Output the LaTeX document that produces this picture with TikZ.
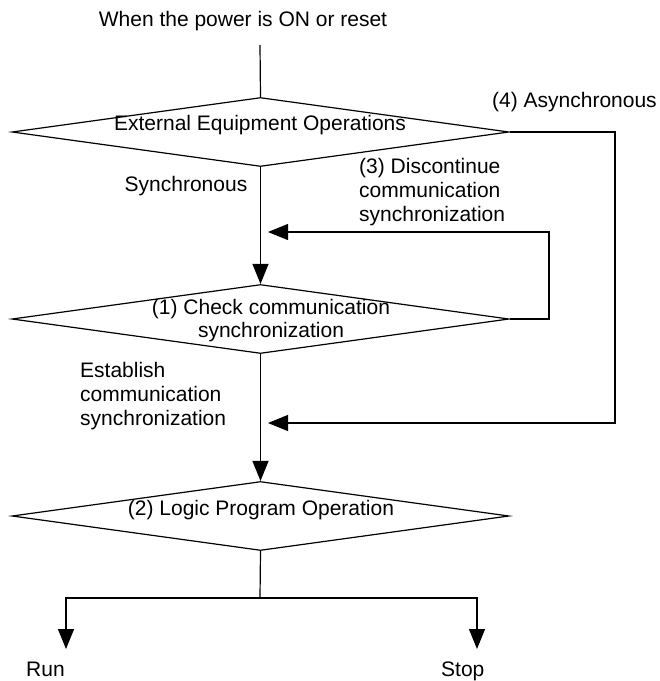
\documentclass[tikz,border=0pt]{standalone}
\usepackage{fontspec}
\setmainfont{Liberation Sans}
\usetikzlibrary{shapes.geometric,arrows.meta}
\tikzset{
  dec/.style={diamond, draw, line width=1.2pt, minimum width=497pt, minimum height=69pt, inner sep=0pt, aspect=7.2},
  txt/.style={inner sep=0pt, font=\fontsize{21}{25}\selectfont},
  ln/.style={line width=1.2pt, line join=miter},
  arr/.style={ln, -{Triangle[length=20pt,width=16pt]}}
}
\begin{document}
\begin{tikzpicture}[x=1pt,y=-1pt]
\useasboundingbox (0,0) rectangle (660,681);
% decisions
\node[dec] (d1) at (260.5,132) {};
\node[dec] (d2) at (260.5,319) {};
\node[dec] (d3) at (260.5,516) {};
% texts
\node[txt, anchor=base] (title) at (243,26) {When the power is ON or reset};
\node[txt, anchor=base] (t1) at (260,130) {External Equipment Operations};
\node[txt, anchor=base] (sync) at (186,191) {Synchronous};
\node[txt, anchor=base west] (async) at (492,107) {(4) Asynchronous};
\node[txt, anchor=base west] (disc1) at (359,173) {(3) Discontinue};
\node[txt, anchor=base west] (disc2) at (359,197) {communication};
\node[txt, anchor=base west] (disc3) at (359,221) {synchronization};
\node[txt, anchor=base] (t2a) at (271,314) {(1) Check communication};
\node[txt, anchor=base] (t2b) at (271,337) {synchronization};
\node[txt, anchor=base west] (est1) at (80,377) {Establish};
\node[txt, anchor=base west] (est2) at (80,401) {communication};
\node[txt, anchor=base west] (est3) at (80,425) {synchronization};
\node[txt, anchor=base] (t3) at (261,515) {(2) Logic Program Operation};
\node[txt, anchor=base west] (run) at (26,676) {Run};
\node[txt, anchor=base west] (stop) at (441,676) {Stop};
% coordinates
\coordinate (top) at (260,45);
\coordinate (a1) at (615,132);
\coordinate (a2) at (615,423);
\coordinate (a3) at (268,423);
\coordinate (l1) at (549,319);
\coordinate (l2) at (549,232);
\coordinate (l3) at (268,232);
\coordinate (b0) at (260,598);
\coordinate (bl) at (66,598);
\coordinate (br) at (477,598);
\coordinate (rt) at (66,649);
\coordinate (st) at (477,649);
% connectors
\draw[ln] (top) -- (d1.north);
\draw[arr] (d1.south) -- (d2.north);
\draw[arr] (d2.south) -- (d3.north);
\draw[arr] (d1.east) -- (a1) -- (a2) -- (a3);
\draw[arr] (d2.east) -- (l1) -- (l2) -- (l3);
\draw[ln] (d3.south) -- (b0);
\draw[arr] (b0) -- (bl) -- (rt);
\draw[arr] (b0) -- (br) -- (st);
\end{tikzpicture}
\end{document}
